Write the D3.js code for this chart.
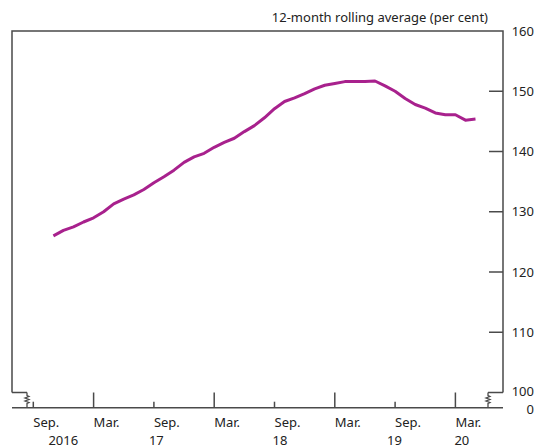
<!DOCTYPE html>
<html lang="en">
<head>
<meta charset="UTF-8">
<title>12-month rolling average</title>
<script src="https://d3js.org/d3.v7.min.js"></script>
<style>
  body { margin: 0; background: #fff; }
  svg { display: block; font-family: "Noto Sans", "Open Sans", sans-serif; }
  .lbl { font-size: 13px; fill: #222; }
</style>
</head>
<body>
<svg id="chart" width="540" height="448"></svg>
<script>
// monthly observations, Nov 2016 .. May 2020 (month index 0 = Sep 2016)
const firstMonth = 2;
const values = [
  126.0, 126.9, 127.5, 128.3, 129.0, 130.0, 131.3, 132.1, 132.8, 133.7,
  134.8, 135.8, 136.9, 138.2, 139.1, 139.7, 140.7, 141.5, 142.2, 143.3,
  144.3, 145.6, 147.1, 148.3, 148.9, 149.6, 150.4, 151.0, 151.3, 151.6,
  151.6, 151.6, 151.7, 150.9, 150.0, 148.8, 147.8, 147.2, 146.4, 146.1,
  146.1, 145.2, 145.4
];
const monthTicks = [0, 6, 12, 18, 24, 30, 36, 42];
const monthLabels = ["Sep.", "Mar.", "Sep.", "Mar.", "Sep.", "Mar.", "Sep.", "Mar."];
const yearTicks = [1.5, 11.5, 23.8, 35.2, 41.9];
const yearLabels = ["2016", "17", "18", "19", "20"];
const yTicks = [110, 120, 130, 140, 150];
const yLabels = [100, 110, 120, 130, 140, 150, 160];

const svg = d3.select("#chart");
const pLeft = 12, pRight = 503, pTop = 31, pBottom = 392.5, zeroY = 407.7;
const axisCol = "#4a4a4a";

const x = d3.scaleLinear().domain([0, 42]).range([33.3, 455.4]);
const y = d3.scaleLinear().domain([100, 160]).range([pBottom, pTop]);

// frame: left, top, right
svg.append("path")
  .attr("d", `M${pLeft},${pBottom}V${pTop}H${pRight}V${pBottom}`)
  .attr("fill", "none").attr("stroke", axisCol).attr("stroke-width", 1.5);

// broken-axis stubs at 100 level + zigzags
const zig = (x0) => `M${x0},${pBottom}v3l2,1l-4,1.5l4,1.5l-4,1.5l4,1.5l-2,1V${zeroY}`;
svg.append("path")
  .attr("d", `M${pLeft},${pBottom}H${pLeft + 15}` + zig(pLeft + 15))
  .attr("fill", "none").attr("stroke", axisCol).attr("stroke-width", 1.3);
svg.append("path")
  .attr("d", `M${pRight},${pBottom}H${pRight - 15}` + zig(pRight - 15))
  .attr("fill", "none").attr("stroke", axisCol).attr("stroke-width", 1.3);

// zero baseline
svg.append("line")
  .attr("x1", pLeft).attr("x2", pRight).attr("y1", zeroY).attr("y2", zeroY)
  .attr("stroke", axisCol).attr("stroke-width", 1.5);

// right axis ticks (inward)
svg.selectAll(".ytick").data(yTicks).enter().append("line")
  .attr("x1", pRight - 14).attr("x2", pRight)
  .attr("y1", d => y(d)).attr("y2", d => y(d))
  .attr("stroke", axisCol).attr("stroke-width", 1.5);

svg.selectAll(".ylab").data(yLabels).enter().append("text")
  .attr("class", "lbl")
  .attr("x", 534).attr("y", d => y(d) - (d === 100 ? 1 : 0)).attr("dy", "0.35em")
  .attr("text-anchor", "end").text(d => d);
svg.append("text").attr("class", "lbl")
  .attr("x", 534).attr("y", zeroY + 1.5).attr("dy", "0.35em")
  .attr("text-anchor", "end").text("0");

// x ticks on zero line
svg.selectAll(".xtick").data(monthTicks).enter().append("line")
  .attr("x1", d => x(d)).attr("x2", d => x(d))
  .attr("y1", (d, i) => monthLabels[i] === "Mar." ? pBottom : zeroY - 6)
  .attr("y2", zeroY)
  .attr("stroke", axisCol).attr("stroke-width", 1.5);

svg.selectAll(".xlab").data(monthTicks).enter().append("text")
  .attr("class", "lbl")
  .attr("x", d => x(d)).attr("y", 427)
  .text((d, i) => monthLabels[i]);

svg.selectAll(".yrlab").data(yearTicks).enter().append("text")
  .attr("class", "lbl")
  .attr("x", d => x(d)).attr("y", 445)
  .text((d, i) => yearLabels[i]);

// axis title
svg.append("text").attr("class", "lbl")
  .attr("x", 488).attr("y", 22).attr("text-anchor", "end")
  .text("12-month rolling average (per cent)");

// series
const line = d3.line()
  .x((d, i) => x(firstMonth + i))
  .y(d => y(d));
svg.append("path")
  .datum(values)
  .attr("d", line)
  .attr("fill", "none")
  .attr("stroke", "#a8218d")
  .attr("stroke-width", 3)
  .attr("stroke-linejoin", "round");
</script>
</body>
</html>
